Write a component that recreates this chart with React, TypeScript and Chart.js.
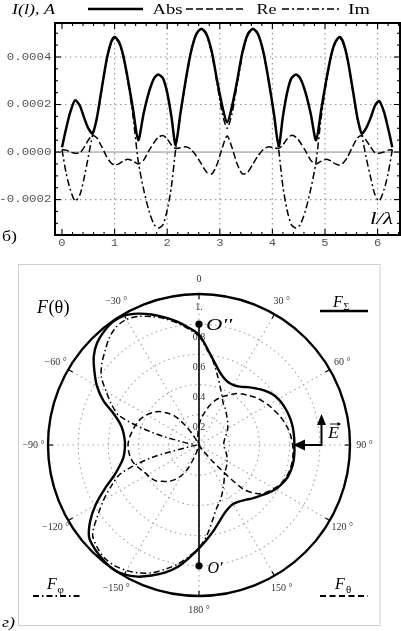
import React, { useEffect, useRef } from 'react';
import { Chart, registerables } from 'chart.js';

Chart.register(...registerables);

// ================= Top chart: current distribution I(l) =================
const lPos = [0, 0.08, 0.16, 0.25, 0.34, 0.42, 0.5, 0.58, 0.66, 0.75, 0.85, 0.93, 1.0, 1.08, 1.16, 1.25, 1.35, 1.45,
  1.55, 1.65, 1.75, 1.83, 1.92, 2.0, 2.08, 2.16, 2.25, 2.35, 2.45, 2.55, 2.65, 2.75, 2.85, 2.95, 3.05, 3.14,
  3.23, 3.33, 3.43, 3.53, 3.63, 3.73, 3.83, 3.93, 4.03, 4.12, 4.2, 4.28, 4.36, 4.45, 4.53, 4.63, 4.73, 4.83,
  4.93, 5.03, 5.12, 5.2, 5.28, 5.35, 5.43, 5.53, 5.62, 5.7, 5.78, 5.87, 5.95, 6.03, 6.12, 6.2, 6.28];

const absVals = [0.2e-4, 1.0e-4, 1.7e-4, 2.18e-4, 1.95e-4, 1.45e-4, 1.0e-4, 0.78e-4, 1.4e-4, 2.6e-4, 3.9e-4, 4.6e-4,
  4.84e-4, 4.65e-4, 4.1e-4, 3.1e-4, 1.8e-4, 0.5e-4, 1.6e-4, 2.5e-4, 3.1e-4, 3.26e-4, 3.1e-4, 2.5e-4, 1.5e-4, 0.3e-4,
  1.6e-4, 3.0e-4, 4.2e-4, 4.95e-4, 5.19e-4, 4.95e-4, 4.2e-4, 3.0e-4, 1.9e-4, 1.25e-4, 1.9e-4, 3.0e-4, 4.2e-4, 4.95e-4,
  5.19e-4, 4.95e-4, 4.2e-4, 3.0e-4, 1.6e-4, 0.25e-4, 1.5e-4, 2.5e-4, 3.1e-4, 3.26e-4, 3.1e-4, 2.5e-4, 1.6e-4, 0.5e-4,
  1.8e-4, 3.1e-4, 4.1e-4, 4.65e-4, 4.84e-4, 4.6e-4, 3.9e-4, 2.6e-4, 1.4e-4, 0.78e-4, 1.0e-4, 1.45e-4, 1.95e-4, 2.15e-4,
  1.7e-4, 1.0e-4, 0.2e-4];

const reVals = [0.1e-4, 0.08e-4, 0.0, -0.05e-4, -0.03e-4, 0.2e-4, 0.5e-4, 0.7e-4, 0.6e-4, 0.25e-4, -0.2e-4, -0.45e-4,
  -0.55e-4, -0.5e-4, -0.38e-4, -0.3e-4, -0.38e-4, -0.5e-4, -0.35e-4, 0.05e-4, 0.4e-4, 0.62e-4, 0.7e-4, 0.55e-4, 0.3e-4, 0.15e-4,
  0.18e-4, 0.22e-4, 0.12e-4, -0.15e-4, -0.5e-4, -0.85e-4, -0.92e-4, -0.5e-4, 0.2e-4, 0.68e-4, 0.2e-4, -0.5e-4, -0.92e-4, -0.85e-4,
  -0.5e-4, -0.15e-4, 0.12e-4, 0.22e-4, 0.18e-4, 0.15e-4, 0.3e-4, 0.55e-4, 0.7e-4, 0.62e-4, 0.4e-4, 0.05e-4, -0.35e-4, -0.5e-4,
  -0.38e-4, -0.3e-4, -0.38e-4, -0.5e-4, -0.55e-4, -0.45e-4, -0.2e-4, 0.25e-4, 0.6e-4, 0.7e-4, 0.5e-4, 0.2e-4, -0.03e-4, -0.05e-4,
  0.0, 0.08e-4, 0.1e-4];

const imVals = [0.1e-4, -0.9e-4, -1.6e-4, -2.06e-4, -1.8e-4, -1.1e-4, -0.2e-4, 0.7e-4, 1.35e-4, 2.55e-4, 3.85e-4, 4.55e-4,
  4.8e-4, 4.6e-4, 4.05e-4, 3.0e-4, 1.5e-4, -0.4e-4, -1.55e-4, -2.45e-4, -3.05e-4, -3.2e-4, -3.05e-4, -2.45e-4, -1.45e-4, 0.1e-4,
  1.55e-4, 2.95e-4, 4.15e-4, 4.93e-4, 5.18e-4, 4.9e-4, 4.1e-4, 2.85e-4, 1.6e-4, 1.0e-4, 1.6e-4, 2.85e-4, 4.1e-4, 4.9e-4,
  5.18e-4, 4.93e-4, 4.15e-4, 2.95e-4, 1.55e-4, 0.1e-4, -1.45e-4, -2.45e-4, -3.05e-4, -3.2e-4, -3.05e-4, -2.45e-4, -1.55e-4, -0.4e-4,
  1.5e-4, 3.0e-4, 4.05e-4, 4.6e-4, 4.8e-4, 4.55e-4, 3.85e-4, 2.55e-4, 1.35e-4, 0.7e-4, -0.2e-4, -1.1e-4, -1.8e-4, -2.06e-4,
  -1.6e-4, -0.9e-4, 0.1e-4];

const xTickVals = [0, 1, 2, 3, 4, 5, 6];
const xTickLabels = ['0', '1', '2', '3', '4', '5', '6'];
const yTickVals = [-0.0002, 0, 0.0002, 0.0004];
const yTickLabels = ['-0.0002', '0.0000', '0.0002', '0.0004'];
const seriesNames = ['Abs', 'Re', 'Im'];

// ================= Bottom chart: pattern F(θ) =================
const angleDeg = [0, 5, 10, 15, 20, 25, 30, 35, 40, 45, 50, 55, 60, 65, 70, 75, 80, 85, 90, 95, 100, 105, 110, 115,
  120, 125, 130, 135, 140, 145, 150, 155, 160, 165, 170, 175, 180, 185, 190, 195, 200, 205, 210, 215, 220, 225, 230, 235,
  240, 245, 250, 255, 260, 265, 270, 275, 280, 285, 290, 295, 300, 305, 310, 315, 320, 325, 330, 335, 340, 345, 350, 355];

const fSigma = [0.73, 0.64, 0.565, 0.51, 0.475, 0.458, 0.458, 0.472, 0.50, 0.53,
  0.562, 0.59, 0.608, 0.618, 0.625, 0.63, 0.632, 0.632, 0.632, 0.634,
  0.635, 0.632, 0.624, 0.607, 0.585, 0.555, 0.525, 0.50, 0.475, 0.458,
  0.452, 0.462, 0.485, 0.523, 0.572, 0.625, 0.685, 0.75, 0.82, 0.875,
  0.92, 0.962, 0.99, 1.0, 0.99, 0.975, 0.95, 0.88, 0.79, 0.69,
  0.60, 0.545, 0.51, 0.495, 0.49, 0.495, 0.51, 0.54, 0.60, 0.70,
  0.78, 0.845, 0.91, 0.955, 0.98, 0.995, 0.99, 0.96, 0.92, 0.875,
  0.83, 0.78];

const fTheta = [0.13, 0.18, 0.22, 0.27, 0.315, 0.35, 0.38, 0.415, 0.44, 0.465,
  0.49, 0.51, 0.53, 0.548, 0.568, 0.585, 0.60, 0.612, 0.62, 0.625,
  0.627, 0.624, 0.616, 0.60, 0.575, 0.545, 0.50, 0.41, 0.15, 0.03,
  0, 0, 0, 0, 0, 0, 0, 0, 0, 0.02,
  0.07, 0.17, 0.235, 0.28, 0.315, 0.34, 0.37, 0.385, 0.395, 0.41,
  0.43, 0.45, 0.462, 0.468, 0.47, 0.465, 0.455, 0.445, 0.435, 0.42,
  0.40, 0.375, 0.345, 0.30, 0.25, 0.16, 0.06, 0, 0, 0.02,
  0.04, 0.08];

const fPhi = [0.72, 0.63, 0.555, 0.475, 0.41, 0.36, 0.32, 0.30, 0.28, 0.262,
  0.247, 0.232, 0.22, 0.205, 0.19, 0.178, 0.17, 0.165, 0.165, 0.168,
  0.175, 0.185, 0.195, 0.205, 0.215, 0.225, 0.235, 0.245, 0.26, 0.29,
  0.32, 0.36, 0.40, 0.44, 0.51, 0.60, 0.68, 0.74, 0.80, 0.85,
  0.90, 0.935, 0.96, 0.975, 0.975, 0.955, 0.92, 0.82, 0.73, 0.64,
  0.55, 0.33, 0.06, 0.02, 0.02, 0.02, 0.1, 0.32, 0.56, 0.64,
  0.71, 0.79, 0.84, 0.88, 0.925, 0.955, 0.96, 0.94, 0.905, 0.865,
  0.82, 0.77];

const angleLabelDeg = [0, 30, 60, 90, 120, 150, 180, 210, 240, 270, 300, 330];
const angleLabels = ['0', '30 °', '60 °', '90 °', '120 °', '150 °', '180 °', '−150 °', '−120 °', '−90 °', '−60 °', '−30 °'];
const radialTickVals = [0.2, 0.4, 0.6, 0.8, 1.0];
const radialTickLabels = ['0.2', '0.4', '0.6', '0.8', '1.'];
const axisAngles = [0, 180];
const axisR = [0.8, 0.8];

// ================= helpers =================
type Align = 'left' | 'center' | 'right';
function drawText(ctx: CanvasRenderingContext2D, text: string, x: number, y: number, font: string,
  opts: { align?: Align; baseline?: CanvasTextBaseline; sx?: number; width?: number; color?: string } = {}) {
  ctx.save();
  ctx.font = font;
  ctx.fillStyle = opts.color ?? '#000';
  ctx.textBaseline = opts.baseline ?? 'alphabetic';
  ctx.textAlign = 'left';
  const w0 = ctx.measureText(text).width;
  const sx = opts.width ? opts.width / w0 : (opts.sx ?? 1);
  const w = w0 * sx;
  const align = opts.align ?? 'left';
  const x0 = align === 'left' ? x : align === 'center' ? x - w / 2 : x - w;
  ctx.translate(x0, y);
  ctx.scale(sx, 1);
  ctx.fillText(text, 0, 0);
  ctx.restore();
}

function line(ctx: CanvasRenderingContext2D, x1: number, y1: number, x2: number, y2: number, w: number, dash: number[] = [], color = '#000') {
  ctx.save();
  ctx.beginPath();
  ctx.setLineDash(dash);
  ctx.lineWidth = w;
  ctx.strokeStyle = color;
  ctx.moveTo(x1, y1);
  ctx.lineTo(x2, y2);
  ctx.stroke();
  ctx.restore();
}

const DASH_RE = [7, 3];
const DASH_IM = [7, 3, 2, 3];
const DASH_THETA = [6, 3.5];
const DASH_PHI = [6, 3, 1.5, 3];
const SERIF = '"Liberation Serif", "Times New Roman", serif';
const MONO = '"Liberation Mono", "Courier New", monospace';

const topDecor = {
  id: 'topDecor',
  beforeDatasetsDraw(chart: any) {
    const { ctx, chartArea: a, scales } = chart;
    const x = scales.x, y = scales.y;
    // dotted grid
    for (const v of xTickVals) {
      if (v === 0) continue;
      const px = x.getPixelForValue(v);
      line(ctx, px, a.top, px, a.bottom, 1.2, [1.5, 3.5], '#9a9a9a');
    }
    for (const v of yTickVals) {
      if (v === 0) continue;
      const py = y.getPixelForValue(v);
      line(ctx, a.left, py, a.right, py, 1.2, [1.5, 3.5], '#9a9a9a');
    }
    const p0 = y.getPixelForValue(0);
    line(ctx, a.left, p0, a.right, p0, 1, [], '#8a8a8a');
  },
  afterDatasetsDraw(chart: any) {
    const { ctx, chartArea: a, scales } = chart;
    const x = scales.x, y = scales.y;
    // frame
    ctx.save();
    ctx.lineWidth = 2;
    ctx.strokeStyle = '#000';
    ctx.strokeRect(a.left, a.top, a.right - a.left, a.bottom - a.top);
    ctx.restore();
    // ticks (inward)
    for (let k = 0; k <= 32; k++) {
      const v = k * 0.2;
      const px = x.getPixelForValue(v);
      const major = k % 5 === 0;
      const len = major ? 6 : 3;
      line(ctx, px, a.bottom, px, a.bottom - len, 1.1);
      line(ctx, px, a.top, px, a.top + len, 1.1);
    }
    for (let k = -6; k <= 10; k++) {
      const v = k * 0.00005;
      const py = y.getPixelForValue(v);
      if (py < a.top || py > a.bottom) continue;
      const major = k % 4 === 0;
      const len = major ? 6 : 3;
      line(ctx, a.left, py, a.left + len, py, 1.1);
      line(ctx, a.right, py, a.right - len, py, 1.1);
    }
    // tick labels
    yTickVals.forEach((v, i) => {
      drawText(ctx, yTickLabels[i], a.left - 3.5, y.getPixelForValue(v), `11px ${MONO}`, { align: 'right', baseline: 'middle', sx: 1.13, color: '#555' });
    });
    xTickVals.forEach((v, i) => {
      drawText(ctx, xTickLabels[i], x.getPixelForValue(v), a.bottom + 8.5, `11px ${MONO}`, { align: 'center', baseline: 'middle', sx: 1.1, color: '#555' });
    });
    // axis label l/λ
    drawText(ctx, 'l/λ', 370, 224, `italic 17px ${SERIF}`, { width: 23 });
    // legend row
    drawText(ctx, 'I(l), A', 12, 14, `italic 15px ${SERIF}`, { width: 43 });
    line(ctx, 88, 9, 143, 9, 2.5);
    drawText(ctx, seriesNames[0], 152.5, 14, `15px ${SERIF}`, { width: 30 });
    line(ctx, 186, 9, 246, 9, 1.5, DASH_RE);
    drawText(ctx, seriesNames[1], 256.5, 14, `15px ${SERIF}`, { width: 20 });
    line(ctx, 282, 9, 340, 9, 1.5, DASH_IM);
    drawText(ctx, seriesNames[2], 348, 14, `15px ${SERIF}`, { width: 22 });
    // panel label
    drawText(ctx, 'б)', 2, 241, `15px ${SERIF}`, { width: 15 });
  },
};

const polarDecor = {
  id: 'polarDecor',
  beforeDatasetsDraw(chart: any) {
    const s = chart.scales.r;
    const ctx = chart.ctx;
    radialTickVals.forEach((v, i) => {
      const p = s.getPointPositionForValue(0, v);
      drawText(ctx, radialTickLabels[i], p.x, p.y + 13, `10px ${SERIF}`, { align: 'center', baseline: 'middle', color: '#333' });
    });
  },
  afterDatasetsDraw(chart: any) {
    const s = chart.scales.r;
    const ctx = chart.ctx as CanvasRenderingContext2D;
    const cx = s.xCenter, cy = s.yCenter, R = s.drawingArea;
    // outer circle
    ctx.save();
    ctx.beginPath();
    ctx.arc(cx, cy, R, 0, Math.PI * 2);
    ctx.lineWidth = 2.4;
    ctx.strokeStyle = '#000';
    ctx.stroke();
    ctx.restore();
    // ticks and angle labels
    angleLabelDeg.forEach((d, i) => {
      const idx = angleDeg.indexOf(d);
      const a = s.getPointPosition(idx, R);
      const b = s.getPointPosition(idx, R - 5);
      line(ctx, a.x, a.y, b.x, b.y, 1.2);
      const p = s.getPointPosition(idx, R + 14.5);
      drawText(ctx, angleLabels[i], p.x, p.y, `10px ${SERIF}`, { align: 'center', baseline: 'middle', color: '#333' });
    });
    // axis O'' - O
    const pA = s.getPointPositionForValue(angleDeg.indexOf(axisAngles[0]), axisR[0]);
    const pB = s.getPointPositionForValue(angleDeg.indexOf(axisAngles[1]), axisR[1]);
    line(ctx, pA.x, pA.y, pB.x, pB.y, 1.6);
    for (const p of [pA, pB]) {
      ctx.beginPath();
      ctx.arc(p.x, p.y, 3.6, 0, Math.PI * 2);
      ctx.fillStyle = '#000';
      ctx.fill();
    }
    drawText(ctx, "O''", pA.x + 7, pA.y + 6, `italic 17px ${SERIF}`, { width: 26 });
    drawText(ctx, "O'", pB.x + 8.5, pB.y + 7, `italic 17px ${SERIF}`, { width: 15 });
    // E arrow
    const tipX = cx + 94, baseX = cx + 122.5;
    line(ctx, baseX, cy, tipX + 9, cy, 2);
    ctx.beginPath();
    ctx.moveTo(tipX, cy);
    ctx.lineTo(tipX + 12, cy - 5.5);
    ctx.lineTo(tipX + 12, cy + 5.5);
    ctx.closePath();
    ctx.fill();
    line(ctx, baseX, cy + 1, baseX, cy - 22, 2);
    ctx.beginPath();
    ctx.moveTo(baseX, cy - 31);
    ctx.lineTo(baseX - 4.5, cy - 20);
    ctx.lineTo(baseX + 4.5, cy - 20);
    ctx.closePath();
    ctx.fill();
    drawText(ctx, 'E', cx + 129, cy - 7, `italic 17px ${SERIF}`, { width: 11 });
    line(ctx, cx + 131, cy - 21, cx + 141, cy - 21, 0.9);
    ctx.beginPath();
    ctx.moveTo(cx + 142, cy - 21);
    ctx.lineTo(cx + 138.5, cy - 23);
    ctx.lineTo(cx + 138.5, cy - 19);
    ctx.closePath();
    ctx.fill();
    // title F(θ)
    drawText(ctx, 'F', 37, 55, `italic 18px ${SERIF}`);
    drawText(ctx, '(θ)', 48.5, 55, `18px ${SERIF}`, { width: 21 });
    // legend F_Σ
    drawText(ctx, 'F', 333, 49, `italic 16px ${SERIF}`);
    drawText(ctx, 'Σ', 343.5, 52, `10px ${SERIF}`);
    line(ctx, 320, 53, 368, 53, 2.4);
    // legend F_φ
    drawText(ctx, 'F', 47, 331, `italic 16px ${SERIF}`);
    drawText(ctx, 'φ', 57.5, 335, `11px ${SERIF}`);
    line(ctx, 33, 338, 82, 338, 1.8, DASH_PHI);
    // legend F_θ
    drawText(ctx, 'F', 335, 331, `italic 16px ${SERIF}`);
    drawText(ctx, 'θ', 346, 335, `11px ${SERIF}`);
    line(ctx, 320, 338, 368, 338, 1.8, DASH_THETA);
    // frame box
    ctx.save();
    ctx.strokeStyle = '#cfcfcf';
    ctx.lineWidth = 1;
    ctx.strokeRect(18.5, 6.5, 361.5, 361);
    ctx.restore();
    drawText(ctx, 'г)', 2, 369, `italic 15px ${SERIF}`, { width: 13 });
  },
};

export default function App() {
  const topRef = useRef<HTMLCanvasElement | null>(null);
  const botRef = useRef<HTMLCanvasElement | null>(null);

  useEffect(() => {
    document.body.style.margin = '0';
    const mk = (vals: number[]) => lPos.map((l, i) => ({ x: l, y: vals[i] }));
    const top = new Chart(topRef.current as HTMLCanvasElement, {
      type: 'line',
      data: {
        datasets: [
          { label: seriesNames[0], data: mk(absVals), borderColor: '#000', borderWidth: 2.5, pointRadius: 0, tension: 0.25, fill: false },
          { label: seriesNames[1], data: mk(reVals), borderColor: '#000', borderWidth: 1.5, borderDash: DASH_RE, pointRadius: 0, tension: 0.25, fill: false },
          { label: seriesNames[2], data: mk(imVals), borderColor: '#000', borderWidth: 1.5, borderDash: DASH_IM, pointRadius: 0, tension: 0.25, fill: false },
        ],
      },
      options: {
        responsive: false,
        animation: false,
        events: [],
        layout: { padding: { left: 55, top: 23, right: 1, bottom: 17 } },
        plugins: { legend: { display: false }, tooltip: { enabled: false } },
        scales: {
          x: { type: 'linear', min: -0.133, max: 6.426, display: false },
          y: { type: 'linear', min: -0.000349, max: 0.000543, display: false },
        },
      },
      plugins: [topDecor],
    } as any);

    const bot = new Chart(botRef.current as HTMLCanvasElement, {
      type: 'radar',
      data: {
        labels: angleDeg.map(String),
        datasets: [
          { label: 'F_Σ', data: fSigma, borderColor: '#000', borderWidth: 2.4, pointRadius: 0, fill: false, tension: 0.3 },
          { label: 'F_θ', data: fTheta, borderColor: '#000', borderWidth: 1.5, borderDash: DASH_THETA, pointRadius: 0, fill: false, tension: 0.3 },
          { label: 'F_φ', data: fPhi, borderColor: '#000', borderWidth: 1.5, borderDash: DASH_PHI, pointRadius: 0, fill: false, tension: 0.3 },
        ],
      },
      options: {
        responsive: false,
        animation: false,
        events: [],
        layout: { padding: { left: 48.5, top: 36, right: 50.5, bottom: 35 } },
        plugins: { legend: { display: false }, tooltip: { enabled: false } },
        scales: {
          r: {
            min: 0,
            max: 1,
            ticks: { display: false, stepSize: 0.2 },
            pointLabels: { display: false },
            angleLines: {
              display: true,
              color: (c: any) => (c.index % 6 === 0 ? '#a3a3a3' : 'rgba(0,0,0,0)'),
              lineWidth: 1.1,
              borderDash: [1.5, 3.5],
            },
            grid: {
              circular: true,
              color: (c: any) => (c.index >= 5 ? 'rgba(0,0,0,0)' : '#a3a3a3'),
              lineWidth: 1.1,
            },
            border: { dash: [1.5, 3.5] },
          },
        },
      },
      plugins: [polarDecor],
    } as any);

    return () => {
      top.destroy();
      bot.destroy();
    };
  }, []);

  return (
    <div style={{ position: 'absolute', left: 0, top: 0, width: 401, height: 631, background: '#fff' }}>
      <canvas ref={topRef} width={401} height={252} style={{ position: 'absolute', left: 0, top: 0 }} />
      <canvas ref={botRef} width={401} height={373} style={{ position: 'absolute', left: 0, top: 258 }} />
    </div>
  );
}
